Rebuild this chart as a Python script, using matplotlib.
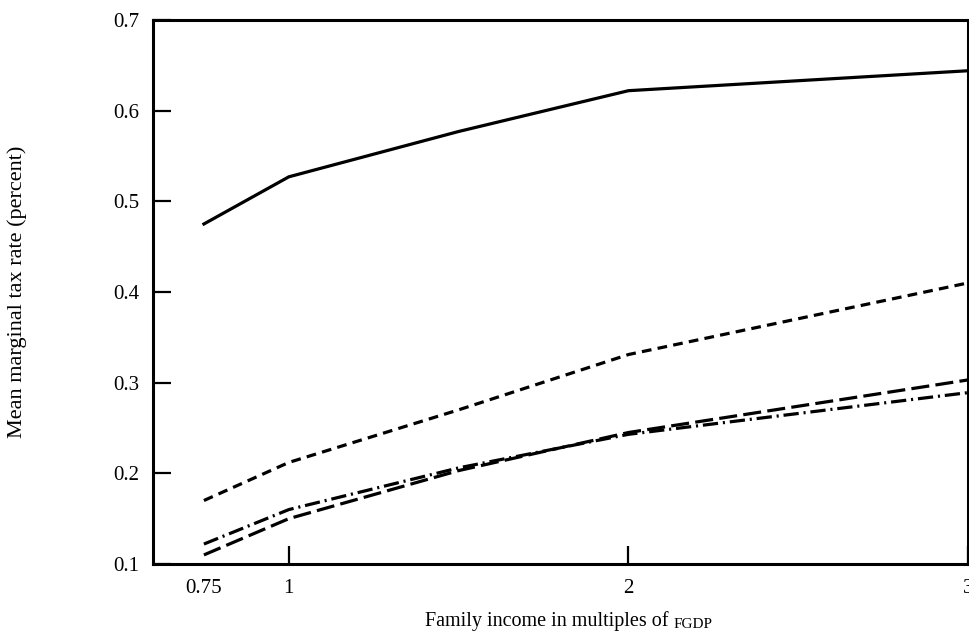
import matplotlib
matplotlib.use("Agg")
import matplotlib.pyplot as plt

plt.rcParams['font.family'] = ['Liberation Serif', 'DejaVu Serif']
plt.rcParams['lines.scale_dashes'] = False

income = [0.75, 1, 1.5, 2, 3]
solid_vals = [0.475, 0.527, 0.577, 0.622, 0.644]
short_dash_vals = [0.170, 0.212, 0.270, 0.331, 0.410]
long_dash_vals = [0.110, 0.150, 0.203, 0.245, 0.303]
dash_dot_vals = [0.122, 0.160, 0.206, 0.243, 0.289]

xtick_vals = [0.75, 1, 2, 3]
xtick_labels = ["0.75", "1", "2", "3"]
ytick_vals = [0.1, 0.2, 0.3, 0.4, 0.5, 0.6, 0.7]

fig = plt.figure(figsize=(9.7, 6.38), dpi=100)
ax = fig.add_axes([0.1577, 0.116, 0.998 - 0.1577, 0.9687 - 0.116])

lw = 2.3
ax.plot(income, solid_vals, color='black', lw=lw, solid_joinstyle='round')
ax.plot(income, short_dash_vals, color='black', lw=lw, linestyle=(0, (7, 4.5)))
ax.plot(income, long_dash_vals, color='black', lw=lw, linestyle=(0, (13, 4.5)))
ax.plot(income, dash_dot_vals, color='black', lw=lw, linestyle=(0, (11, 3.5, 1.5, 3.5)))

ax.set_xlim(0.6, 3)
ax.set_ylim(0.1, 0.7)

ax.set_xticks(xtick_vals)
ax.set_xticklabels(xtick_labels)
ax.set_yticks(ytick_vals)
ax.set_yticklabels([f"{v:.1f}" for v in ytick_vals])

ax.tick_params(axis='both', direction='in', length=13, width=1.6, labelsize=15)
ax.tick_params(axis='x', pad=11)
ax.tick_params(axis='y', pad=10)
ax.xaxis.get_major_ticks()[0].tick1line.set_visible(False)

for sp in ax.spines.values():
    sp.set_linewidth(2.2)

ax.set_ylabel("Mean marginal tax rate (percent)", fontsize=16)
ax.yaxis.set_label_coords(-0.154, 0.5)

t1 = fig.text(425 / 970, 0.019, "Family income in multiples of ", fontsize=14.5,
              ha='left', va='baseline')
ax.annotate("FGDP", xy=(1, 0), xycoords=t1, va='bottom', ha='left',
            fontsize=11)

fig.savefig("out.png", dpi=100)
